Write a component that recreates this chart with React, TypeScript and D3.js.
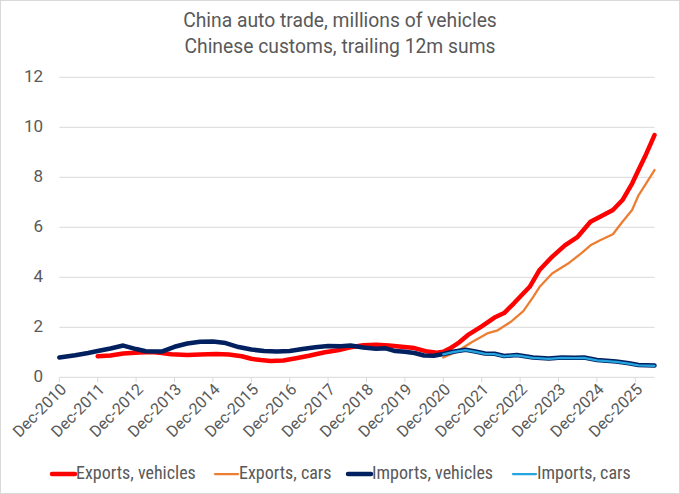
import React, { useEffect } from "react";
import * as d3 from "d3";

// month offsets are counted from Dec-2010 (0)
const tickLabels = [
  "Dec-2010", "Dec-2011", "Dec-2012", "Dec-2013", "Dec-2014", "Dec-2015", "Dec-2016", "Dec-2017",
  "Dec-2018", "Dec-2019", "Dec-2020", "Dec-2021", "Dec-2022", "Dec-2023", "Dec-2024", "Dec-2025",
];
const yTicks = [0, 2, 4, 6, 8, 10, 12];

const exportsVehicles: [number, number][] = [
  [12, 0.84], [16, 0.87], [20, 0.95], [25, 0.99], [29, 1.01], [32, 0.97], [35, 0.92], [40, 0.89],
  [44, 0.91], [49, 0.93], [53, 0.91], [57, 0.84], [60, 0.74], [63, 0.69], [66, 0.65], [70, 0.67],
  [74, 0.76], [78, 0.86], [83, 1.0], [87, 1.08], [91, 1.2], [95, 1.28], [99, 1.3], [103, 1.27],
  [107, 1.22], [111, 1.17], [115, 1.03], [118, 0.98], [120, 1.02], [122, 1.15], [125, 1.4],
  [128, 1.72], [132, 2.04], [136, 2.39], [139, 2.57], [142, 2.95], [144, 3.22], [147, 3.62],
  [150, 4.28], [154, 4.82], [158, 5.28], [162, 5.62], [166, 6.22], [169, 6.42], [173, 6.69],
  [176, 7.09], [179, 7.75], [181, 8.29], [183, 8.82], [186, 9.69],
];

const exportsCars: [number, number][] = [
  [120, 0.79], [124, 1.01], [129, 1.41], [134, 1.77], [137, 1.88], [141, 2.21], [145, 2.65],
  [148, 3.2], [150, 3.6], [154, 4.15], [159, 4.55], [163, 4.95], [166, 5.28], [169, 5.48],
  [173, 5.72], [176, 6.22], [179, 6.69], [181, 7.28], [183, 7.68], [186, 8.29],
];

const importsVehicles: [number, number][] = [
  [0, 0.79], [5, 0.88], [9, 0.97], [12, 1.05], [16, 1.15], [20, 1.27], [24, 1.13], [27, 1.04],
  [32, 1.03], [36, 1.22], [40, 1.35], [44, 1.42], [48, 1.43], [52, 1.37], [56, 1.21], [60, 1.11],
  [64, 1.05], [68, 1.03], [72, 1.05], [76, 1.13], [80, 1.2], [84, 1.25], [88, 1.24], [91, 1.27],
  [95, 1.19], [99, 1.14], [102, 1.16], [105, 1.05], [108, 1.02], [111, 0.97], [114, 0.87],
  [117, 0.86], [120, 0.93], [123, 1.02], [127, 1.1], [130, 1.03], [133, 0.95], [136, 0.94],
  [139, 0.85], [143, 0.89], [148, 0.79], [153, 0.75], [157, 0.79], [161, 0.78], [164, 0.79],
  [168, 0.69], [174, 0.63], [178, 0.56], [181, 0.49], [186, 0.47],
];

const importsCars: [number, number][] = [
  [120, 0.92], [123, 1.01], [127, 1.09], [130, 1.02], [133, 0.94], [136, 0.93], [139, 0.84],
  [143, 0.88], [148, 0.78], [153, 0.74], [157, 0.78], [161, 0.77], [164, 0.78], [168, 0.68],
  [174, 0.62], [178, 0.55], [181, 0.48], [186, 0.46],
];

const seriesNames = ["Exports, vehicles", "Exports, cars", "Imports, vehicles", "Imports, cars"];

const W = 680;
const H = 494;
const TXT = "#595959";
const FONT = "Roboto, 'Open Sans', sans-serif";
const NARROW = "'Liberation Sans Narrow', 'Roboto Condensed', Roboto, sans-serif";

export default function App() {
  useEffect(() => {
    document.body.style.margin = "0";
  }, []);

  const x = d3.scaleLinear().domain([0, 186]).range([59.3, 654.5]);
  const y = d3.scaleLinear().domain([0, 12]).range([377.3, 77.3]);
  const line = d3
    .line<[number, number]>()
    .x((d) => x(d[0]))
    .y((d) => y(d[1]))
    .curve(d3.curveLinear);

  const series = [
    { name: seriesNames[0], data: exportsVehicles, color: "#FF0000", w: 4.5 },
    { name: seriesNames[1], data: exportsCars, color: "#ED7D31", w: 2.25 },
    { name: seriesNames[2], data: importsVehicles, color: "#002060", w: 4.5 },
    { name: seriesNames[3], data: importsCars, color: "#25A5E0", w: 2.25 },
  ];
  const legendX = [52, 215, 348, 513];

  return (
    <svg width={W} height={H} style={{ display: "block", background: "#fff" }} fontFamily={FONT}>
      <rect x={0.5} y={0.5} width={W - 1} height={H - 1} fill="#fff" stroke="#d9d9d9" />
      <text x={340} y={21.5} textAnchor="middle" dominantBaseline="middle" fontSize={19.3} fill={TXT}>
        China auto trade, millions of vehicles
      </text>
      <text x={340} y={48} textAnchor="middle" dominantBaseline="middle" fontSize={19.3} fill={TXT}>
        Chinese customs, trailing 12m sums
      </text>

      {yTicks.map((t) => (
        <g key={t}>
          {t > 0 && (
            <line x1={x(0)} x2={x(186)} y1={y(t)} y2={y(t)} stroke="#d9d9d9" strokeWidth={1} />
          )}
          <text x={43} y={y(t)} textAnchor="end" dominantBaseline="middle" fontSize={17} fill={TXT}>
            {t}
          </text>
        </g>
      ))}

      <line x1={x(0)} x2={x(186)} y1={y(0)} y2={y(0)} stroke="#d9d9d9" strokeWidth={1} />
      {tickLabels.map((lab, i) => (
        <g key={lab}>
          <line x1={x(i * 12)} x2={x(i * 12)} y1={y(0)} y2={y(0) + 5} stroke="#d9d9d9" />
          <text
            transform={`translate(${x(i * 12) + 5},${y(0) + 10}) rotate(-45)`}
            textAnchor="end"
            dominantBaseline="middle"
            fontSize={16}
            fill={TXT}
          >
            {lab}
          </text>
        </g>
      ))}

      {series.map((s) => (
        <path
          key={s.name}
          d={line(s.data) || ""}
          fill="none"
          stroke={s.color}
          strokeWidth={s.w}
          strokeLinejoin="round"
          strokeLinecap="round"
        />
      ))}

      {series.map((s, i) => (
        <g key={"lg" + s.name}>
          <line
            x1={legendX[i]}
            x2={legendX[i] + 23}
            y1={474}
            y2={474}
            stroke={s.color}
            strokeWidth={s.w}
            strokeLinecap="round"
          />
          <text
            x={legendX[i] + 24}
            y={474}
            dominantBaseline="middle"
            fontSize={18}
            fill={TXT}
            fontFamily={NARROW}
          >
            {s.name}
          </text>
        </g>
      ))}
    </svg>
  );
}
